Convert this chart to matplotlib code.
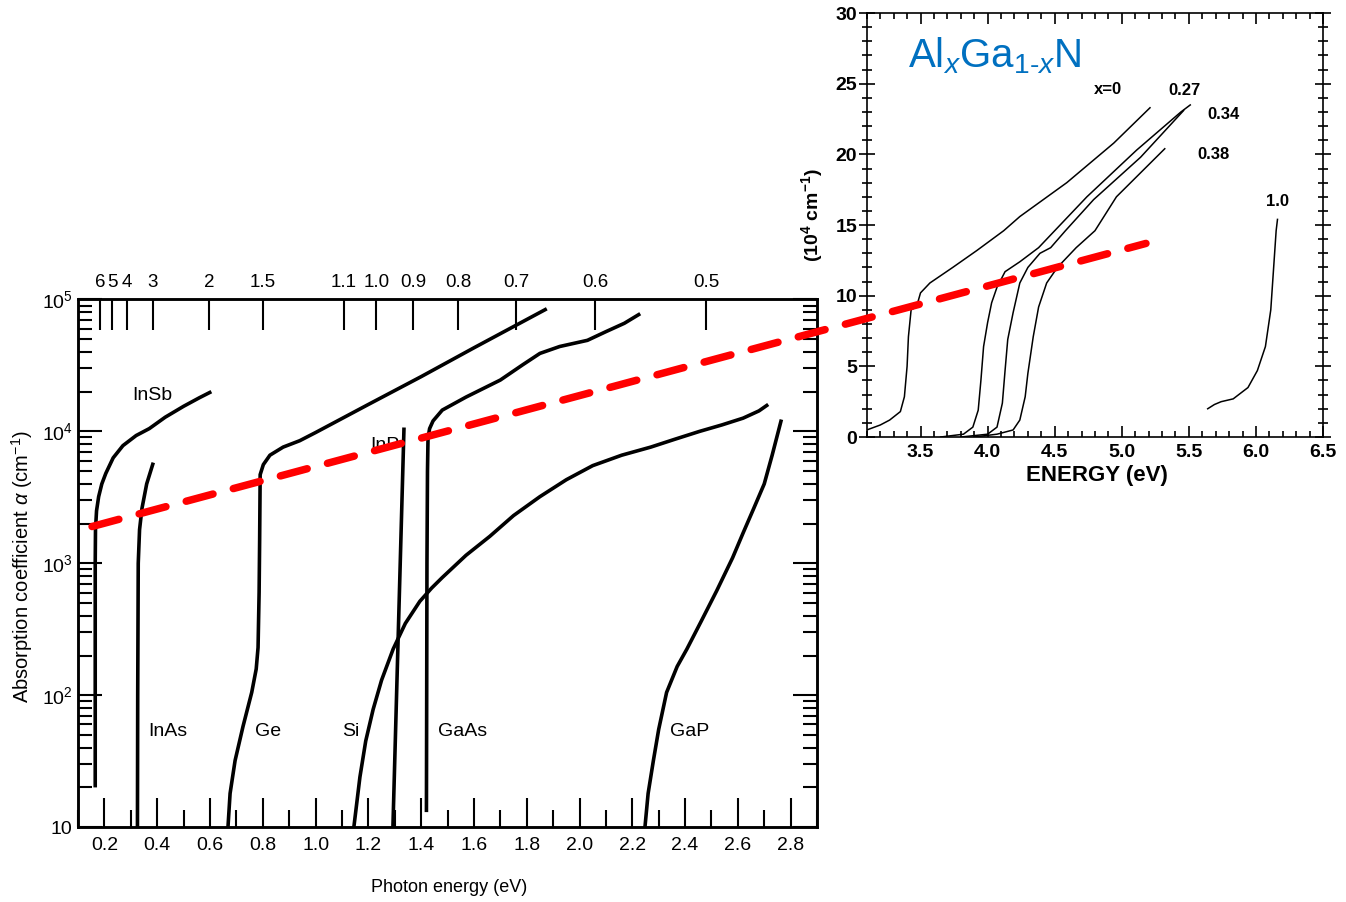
import numpy as np
import matplotlib
matplotlib.use("Agg")
import matplotlib.pyplot as plt
from matplotlib.patches import ConnectionPatch
from matplotlib.ticker import LogLocator, MultipleLocator, NullFormatter, NullLocator, FuncFormatter

plt.rcParams["font.family"] = ["Liberation Sans", "DejaVu Sans"]
plt.rcParams["mathtext.fontset"] = "custom"
plt.rcParams["mathtext.rm"] = "Liberation Sans"
plt.rcParams["mathtext.it"] = "Liberation Sans:italic"
plt.rcParams["mathtext.bf"] = "Liberation Sans:bold"

# ---- left panel: absorption coefficient (cm^-1) vs photon energy (eV) ----
insb_e = [0.165, 0.165, 0.166, 0.170, 0.178, 0.190, 0.205, 0.233, 0.27, 0.32, 0.37, 0.43, 0.50, 0.56, 0.605]
insb_a = [20, 1000, 1800, 2500, 3200, 4000, 4800, 6300, 7800, 9300, 10500, 12800, 15500, 18000, 20000]

inas_e = [0.325, 0.326, 0.328, 0.333, 0.342, 0.36, 0.385]
inas_a = [10, 100, 1000, 1800, 2600, 4000, 5800]

ge_e = [0.668, 0.676, 0.695, 0.725, 0.758, 0.775, 0.782, 0.786, 0.788, 0.790, 0.802, 0.827,
        0.877, 0.94, 1.0, 1.2, 1.4, 1.6, 1.876]
ge_a = [10, 18, 32, 58, 105, 158, 230, 600, 1500, 4700, 5600, 6600,
        7600, 8500, 9800, 16000, 26000, 43000, 85000]

si_e = [1.145, 1.168, 1.19, 1.218, 1.25, 1.294, 1.34, 1.395, 1.44, 1.48, 1.57, 1.66, 1.75, 1.85,
        1.95, 2.05, 2.16, 2.27, 2.36, 2.455, 2.54, 2.62, 2.68, 2.715]
si_a = [10, 24, 45, 78, 130, 224, 350, 515, 650, 780, 1150, 1600, 2300, 3200,
        4300, 5500, 6600, 7600, 8700, 10000, 11200, 12600, 14300, 16000]

inp_e = [1.293, 1.314, 1.335]
inp_a = [10, 330, 10700]

gaas_e = [1.42, 1.421, 1.422, 1.424, 1.426, 1.432, 1.445, 1.48, 1.57, 1.70, 1.785, 1.85,
          1.925, 2.03, 2.10, 2.17, 2.23]
gaas_a = [13, 100, 1000, 5000, 8900, 10500, 12000, 14500, 18200, 24500, 32000, 39000,
          44000, 49000, 57000, 66000, 78000]

gap_e = [2.248, 2.26, 2.28, 2.30, 2.33, 2.37, 2.407, 2.46, 2.52, 2.58, 2.62, 2.66, 2.70, 2.73, 2.765]
gap_a = [10, 18, 32, 55, 105, 165, 224, 360, 620, 1100, 1700, 2600, 4000, 6600, 12300]

left_curves = [(insb_e, insb_a), (inas_e, inas_a), (ge_e, ge_a), (si_e, si_a),
               (inp_e, inp_a), (gaas_e, gaas_a), (gap_e, gap_a)]

# curve labels: (text, energy, alpha)
left_labels = [("InSb", 0.305, 18600), ("InAs", 0.365, 53), ("Ge", 0.77, 53), ("Si", 1.10, 53),
               ("GaAs", 1.464, 53), ("GaP", 2.342, 53), ("InP", 1.206, 7800)]

energy_ticks = [0.2, 0.4, 0.6, 0.8, 1.0, 1.2, 1.4, 1.6, 1.8, 2.0, 2.2, 2.4, 2.6, 2.8]
# top axis: wavelength (um) labels and where they sit on the energy scale (as drawn)
wl_labels = ["6", "5", "4", "3", "2", "1.5", "1.1", "1.0", "0.9", "0.8", "0.7", "0.6", "0.5"]
wl_pos = [0.183, 0.229, 0.286, 0.384, 0.596, 0.80, 1.108, 1.23, 1.37, 1.54, 1.76, 2.06, 2.48]

# ---- right panel: AlxGa1-xN absorption (10^4 cm^-1) vs energy (eV) ----
x0_e = [3.10, 3.20, 3.27, 3.35, 3.38, 3.40, 3.41, 3.43, 3.47, 3.50, 3.57, 3.74, 3.92, 4.12, 4.24, 4.59, 4.94, 5.21]
x0_a = [0.5, 0.85, 1.2, 1.8, 2.85, 5.0, 7.1, 9.0, 9.2, 10.2, 10.9, 12.0, 13.2, 14.6, 15.6, 18.0, 20.8, 23.3]

x27_e = [3.65, 3.82, 3.89, 3.93, 3.95, 3.97, 4.00, 4.03, 4.07, 4.13, 4.24, 4.38, 4.50, 4.74, 5.11, 5.44, 5.51]
x27_a = [0.0, 0.2, 0.7, 1.9, 4.0, 6.4, 8.1, 9.5, 10.6, 11.7, 12.4, 13.4, 14.6, 17.0, 20.3, 23.0, 23.5]

x34_e = [3.80, 4.00, 4.07, 4.11, 4.13, 4.15, 4.19, 4.24, 4.30, 4.39, 4.47, 4.58, 4.79, 5.14, 5.46]
x34_a = [0.0, 0.2, 0.7, 2.4, 4.7, 6.9, 8.8, 10.9, 12.0, 13.0, 13.4, 14.6, 16.8, 19.8, 23.1]

x38_e = [3.90, 4.07, 4.19, 4.24, 4.28, 4.30, 4.34, 4.38, 4.44, 4.52, 4.66, 4.80, 4.96, 5.32]
x38_a = [0.0, 0.2, 0.5, 1.2, 2.85, 4.5, 7.1, 9.2, 10.9, 12.0, 13.4, 14.6, 17.0, 20.4]

x100_e = [5.64, 5.69, 5.74, 5.83, 5.94, 6.01, 6.07, 6.11, 6.13, 6.15, 6.16]
x100_a = [2.0, 2.3, 2.5, 2.7, 3.5, 4.7, 6.4, 9.0, 11.8, 14.6, 15.4]

right_curves = [(x0_e, x0_a), (x27_e, x27_a), (x34_e, x34_a), (x38_e, x38_a), (x100_e, x100_a)]
right_labels = [("x=0", 4.90, 24.6), ("0.27", 5.47, 24.5), ("0.34", 5.76, 22.8),
                ("0.38", 5.68, 20.0), ("1.0", 6.16, 16.7)]
right_xticks = [3.5, 4.0, 4.5, 5.0, 5.5, 6.0, 6.5]
right_yticks = [0, 5, 10, 15, 20, 25, 30]

# red dashed guide: start in left panel (eV, cm^-1), end in right panel (eV, 10^4 cm^-1)
guide_start = (0.153, 1900)
guide_end = (5.18, 13.7)

fig = plt.figure(figsize=(13.46, 9.02), dpi=100)

# ================= left panel =================
ax = fig.add_axes([0.058, 0.083, 0.549, 0.585])
ax_top = ax.twiny()
for e, a in left_curves:
    ax.plot(e, a, color="black", lw=2.6, solid_capstyle="butt")
ax.set_yscale("log")
ax.set_xlim(0.1, 2.9)
ax.set_ylim(10, 1e5)
ax.set_xticks(energy_ticks, labels=[f"{t:.1f}" for t in energy_ticks])
ax.xaxis.set_minor_locator(MultipleLocator(0.1))
ax.yaxis.set_minor_locator(LogLocator(base=10, subs=np.arange(2, 10), numticks=20))
ax.yaxis.set_minor_formatter(NullFormatter())
ax.yaxis.set_major_formatter(FuncFormatter(lambda v, p: "10" if v == 10 else f"$10^{{{int(round(np.log10(v)))}}}$"))
ax.tick_params(axis="x", which="major", direction="in", length=21, width=1.5, labelsize=14, pad=7)
ax.tick_params(axis="x", which="minor", direction="in", length=12, width=1.5)
ax.tick_params(axis="y", which="major", direction="in", length=17, width=1.5, labelsize=14,
               left=True, right=True, pad=4)
ax.tick_params(axis="y", which="minor", direction="in", length=10, width=1.5, left=True, right=True)
for s in ax.spines.values():
    s.set_linewidth(1.8)
for txt, e, a in left_labels:
    ax.text(e, a, txt, fontsize=14, ha="left", va="center")
ax.text(0.502, -0.115, "Photon energy (eV)", transform=ax.transAxes, fontsize=13,
        ha="center", va="center")
ax.text(-0.076, 0.494, r"Absorption coefficient $\alpha$ (cm$^{-1}$)", transform=ax.transAxes,
        fontsize=14.5, rotation=90, ha="center", va="center")

ax_top.set_xlim(ax.get_xlim())
ax_top.set_xticks(wl_pos, labels=wl_labels)
ax_top.xaxis.set_minor_locator(NullLocator())
ax_top.tick_params(axis="x", direction="in", length=22, width=1.5, labelsize=13.5, pad=6)
for s in ax_top.spines.values():
    s.set_linewidth(1.8)

# ================= right panel =================
ax2 = fig.add_axes([0.644, 0.5155, 0.339, 0.470])
for e, a in right_curves:
    ax2.plot(e, a, color="black", lw=1.1)
ax2.set_xlim(3.1, 6.5)
ax2.set_ylim(0, 30)
ax2.set_xticks(right_xticks, labels=[f"{t:.1f}" for t in right_xticks],
               fontsize=14, fontweight="bold")
ax2.set_yticks(right_yticks, labels=[str(t) for t in right_yticks],
               fontsize=14, fontweight="bold")
ax2.xaxis.set_minor_locator(MultipleLocator(0.1))
ax2.yaxis.set_minor_locator(MultipleLocator(1))
ax2.tick_params(axis="x", which="major", direction="in", length=8, width=1.2, top=True, pad=5)
ax2.tick_params(axis="x", which="minor", direction="in", length=4, width=1.2, top=True)
ax2.tick_params(axis="y", which="major", direction="inout", length=12, width=1.2, right=True, pad=1)
ax2.tick_params(axis="y", which="minor", direction="inout", length=7, width=1.2, right=True)
for s in ax2.spines.values():
    s.set_linewidth(1.2)
for txt, e, a in right_labels:
    ax2.text(e, a, txt, fontsize=12, fontweight="bold", ha="center", va="center")
ax2.text(0.09, 0.90, "Al$_{\\mathit{x}}$Ga$_{1\u2010\\mathit{x}}$N", transform=ax2.transAxes,
         fontsize=29, color="#0070C0", ha="left", va="center")
ax2.text(0.504, -0.09, "ENERGY (eV)", transform=ax2.transAxes, fontsize=16, fontweight="bold",
         ha="center", va="center")
ax2.text(-0.12, 0.524, r"(10$^{\mathbf{4}}$ cm$^{\mathbf{-1}}$)", transform=ax2.transAxes,
         fontsize=14, fontweight="bold", rotation=90, ha="center", va="center")

# red dashed guide line across both panels
con = ConnectionPatch(xyA=guide_start, coordsA=ax.transData, xyB=guide_end, coordsB=ax2.transData,
                      color="#ff0000", lw=5.4, linestyle=(0, (3.7, 2.8)), zorder=20)
fig.add_artist(con)

fig.savefig("out.png", dpi=100)
